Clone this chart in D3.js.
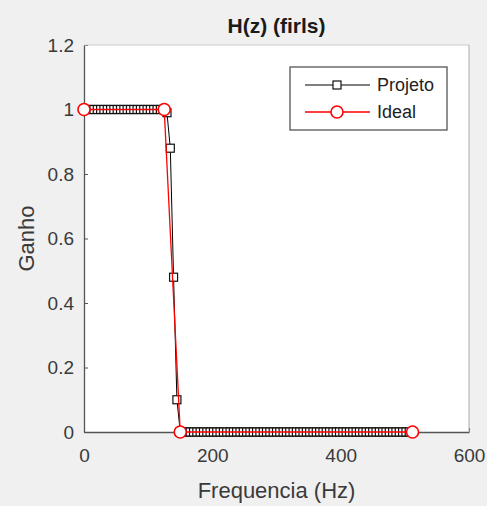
<!DOCTYPE html>
<html>
<head>
<meta charset="utf-8">
<script src="https://cdn.jsdelivr.net/npm/d3@7"></script>
<style>
  body { margin: 0; background: #f0f0f0; }
  svg { display: block; font-family: "Liberation Sans", Arial, sans-serif; }
</style>
</head>
<body>
<div class="chart"></div>
<script>
// frequency grid of the designed filter (Hz)
const freqProjeto = [
  0, 5.2, 10.3, 15.5, 20.7, 25.9, 31.0, 36.2, 41.4, 46.5,
  51.7, 56.9, 62.1, 67.2, 72.4, 77.6, 82.7, 87.9, 93.1, 98.3,
  103.4, 108.6, 113.8, 119.0, 124.1, 129.3, 134.5, 139.6, 144.8, 150.0,
  155.2, 160.3, 165.5, 170.7, 175.8, 181.0, 186.2, 191.4, 196.5, 201.7,
  206.9, 212.0, 217.2, 222.4, 227.6, 232.7, 237.9, 243.1, 248.2, 253.4,
  258.6, 263.8, 268.9, 274.1, 279.3, 284.4, 289.6, 294.8, 300.0, 305.1,
  310.3, 315.5, 320.6, 325.8, 331.0, 336.2, 341.3, 346.5, 351.7, 356.8,
  362.0, 367.2, 372.4, 377.5, 382.7, 387.9, 393.1, 398.2, 403.4, 408.6,
  413.7, 418.9, 424.1, 429.3, 434.4, 439.6, 444.8, 449.9, 455.1, 460.3,
  465.5, 470.6, 475.8, 481.0, 486.1, 491.3, 496.5, 501.7, 506.8, 512.0
];
const gainProjeto = [
  1, 1, 1, 1, 1, 1, 1, 1, 1, 1,
  1, 1, 1, 1, 1, 1, 1, 1, 1, 1,
  1, 1, 1, 1, 1, 0.99, 0.88, 0.48, 0.10, 0,
  0, 0, 0, 0, 0, 0, 0, 0, 0, 0,
  0, 0, 0, 0, 0, 0, 0, 0, 0, 0,
  0, 0, 0, 0, 0, 0, 0, 0, 0, 0,
  0, 0, 0, 0, 0, 0, 0, 0, 0, 0,
  0, 0, 0, 0, 0, 0, 0, 0, 0, 0,
  0, 0, 0, 0, 0, 0, 0, 0, 0, 0,
  0, 0, 0, 0, 0, 0, 0, 0, 0, 0
];
const freqIdeal = [0, 125, 150, 512];
const gainIdeal = [1, 1, 0, 0];

const xTicks = [0, 200, 400, 600];
const yTicks = [0, 0.2, 0.4, 0.6, 0.8, 1, 1.2];
const seriesNames = ['Projeto', 'Ideal'];

const chartWidth = 487;
const chartHeight = 506;
const margin = { left: 84, right: 18, top: 45, bottom: 74 };
const width = chartWidth - margin.left - margin.right;
const height = chartHeight - margin.top - margin.bottom;

const svg = d3.select('.chart')
  .append('svg')
  .attr('width', chartWidth)
  .attr('height', chartHeight);

const g = svg.append('g')
  .attr('transform', `translate(${margin.left}, ${margin.top})`);

g.append('rect')
  .attr('width', width)
  .attr('height', height)
  .attr('fill', 'white');

const xScale = d3.scaleLinear().domain([0, 600]).range([0, width]);
const yScale = d3.scaleLinear().domain([0, 1.2]).range([height, 0]);

// axes, MATLAB style: inward ticks, box on
const axisColor = '#555';
const tickColor = '#3a3a3a';
const xAxis = g.append('g')
  .attr('transform', `translate(0, ${height})`)
  .call(d3.axisBottom(xScale).tickValues(xTicks).tickSizeInner(-4).tickSizeOuter(0).tickPadding(17).tickFormat(d3.format('d')));
const yAxis = g.append('g')
  .call(d3.axisLeft(yScale).tickValues(yTicks).tickSizeInner(-4).tickSizeOuter(0).tickPadding(10).tickFormat(d => d === 0 || d === 1 ? d : d3.format('.1f')(d)));
[xAxis, yAxis].forEach(a => {
  a.select('.domain').attr('stroke', axisColor).attr('stroke-width', 1.3);
  a.selectAll('.tick line').attr('stroke', axisColor);
  a.selectAll('.tick text').attr('fill', tickColor).attr('font-size', '19px');
});
// top and right box edges
g.append('line').attr('x1', 0).attr('x2', width).attr('y1', 0).attr('y2', 0)
  .attr('stroke', '#ccc').attr('stroke-width', 1);
g.append('line').attr('x1', width).attr('x2', width).attr('y1', 0).attr('y2', height)
  .attr('stroke', '#aaa').attr('stroke-width', 1);

const projeto = freqProjeto.map((f, i) => ({ f, v: gainProjeto[i] }));
const ideal = freqIdeal.map((f, i) => ({ f, v: gainIdeal[i] }));

const line = d3.line().x(d => xScale(d.f)).y(d => yScale(d.v));

// Projeto: black line, square markers
g.append('path')
  .datum(projeto)
  .attr('d', line)
  .attr('fill', 'none')
  .attr('stroke', 'black')
  .attr('stroke-width', 1);
g.append('g').selectAll('rect')
  .data(projeto)
  .enter()
  .append('rect')
  .attr('x', d => xScale(d.f) - 4)
  .attr('y', d => yScale(d.v) - 4)
  .attr('width', 8)
  .attr('height', 8)
  .attr('fill', 'white')
  .attr('stroke', '#111')
  .attr('stroke-width', 1.2);

// Ideal: red line, circle markers
g.append('path')
  .datum(ideal)
  .attr('d', line)
  .attr('fill', 'none')
  .attr('stroke', 'red')
  .attr('stroke-width', 1.3);
g.append('g').selectAll('circle')
  .data(ideal)
  .enter()
  .append('circle')
  .attr('cx', d => xScale(d.f))
  .attr('cy', d => yScale(d.v))
  .attr('r', 6)
  .attr('fill', 'white')
  .attr('stroke', 'red')
  .attr('stroke-width', 1.6);

// title and labels
svg.append('text')
  .attr('x', margin.left + width / 2)
  .attr('y', 33)
  .attr('text-anchor', 'middle')
  .attr('font-weight', 'bold')
  .attr('font-size', '21px')
  .attr('fill', '#1a1a1a')
  .text('H(z) (firls)');
svg.append('text')
  .attr('x', margin.left + width / 2)
  .attr('y', 498)
  .attr('text-anchor', 'middle')
  .attr('font-size', '22px')
  .attr('fill', '#3a3a3a')
  .text('Frequencia (Hz)');
svg.append('text')
  .attr('transform', `translate(34, ${margin.top + height / 2}) rotate(-90)`)
  .attr('text-anchor', 'middle')
  .attr('font-size', '22px')
  .attr('fill', '#3a3a3a')
  .text('Ganho');

// legend
const legend = svg.append('g').attr('transform', 'translate(290, 67)');
legend.append('rect')
  .attr('width', 157)
  .attr('height', 63)
  .attr('fill', 'white')
  .attr('stroke', '#555')
  .attr('stroke-width', 1.3);
const legendRows = legend.selectAll('g.row')
  .data(seriesNames)
  .enter()
  .append('g')
  .attr('class', 'row')
  .attr('transform', (d, i) => `translate(0, ${18 + i * 27})`);
legendRows.append('line')
  .attr('x1', 15).attr('x2', 80).attr('y1', 0).attr('y2', 0)
  .attr('stroke', (d, i) => i === 0 ? 'black' : 'red')
  .attr('stroke-width', (d, i) => i === 0 ? 1 : 1.3);
legendRows.filter((d, i) => i === 0).append('rect')
  .attr('x', 43).attr('y', -4).attr('width', 8).attr('height', 8)
  .attr('fill', 'white').attr('stroke', '#111').attr('stroke-width', 1.2);
legendRows.filter((d, i) => i === 1).append('circle')
  .attr('cx', 47).attr('cy', 0).attr('r', 6)
  .attr('fill', 'white').attr('stroke', 'red').attr('stroke-width', 1.6);
legendRows.append('text')
  .attr('x', 87)
  .attr('y', 0)
  .attr('dy', '0.35em')
  .attr('font-size', '18px')
  .attr('fill', '#222')
  .text(d => d);
</script>
</body>
</html>
